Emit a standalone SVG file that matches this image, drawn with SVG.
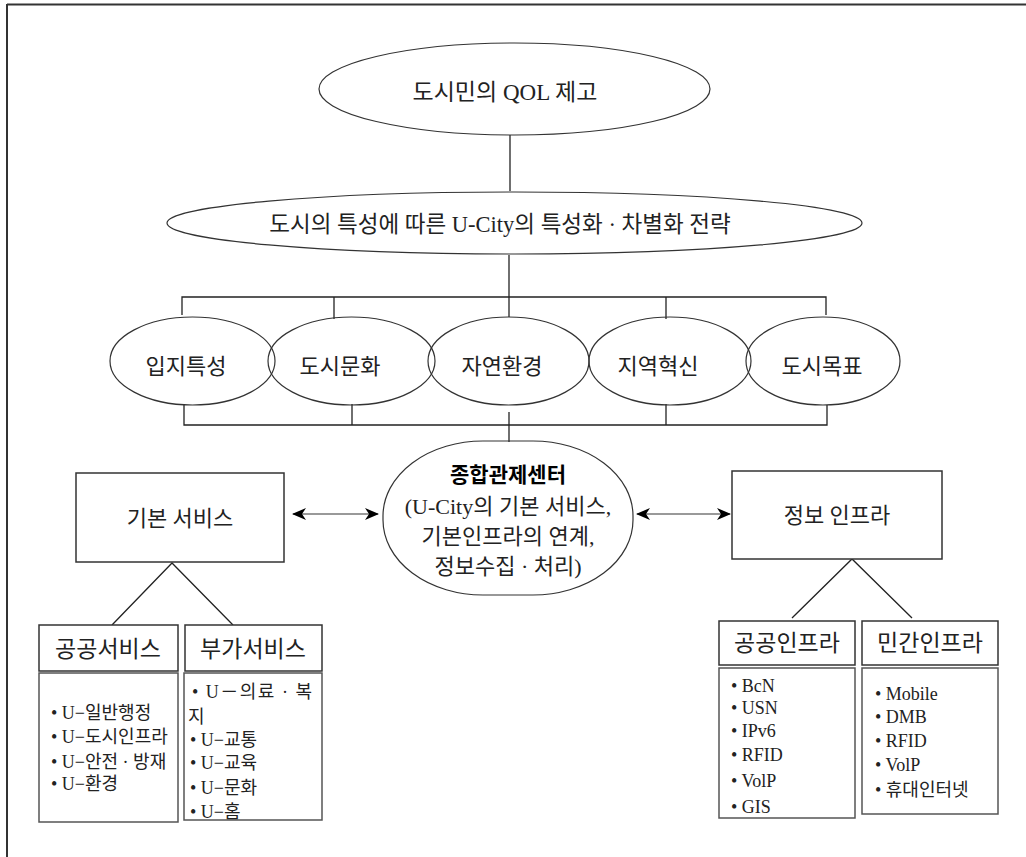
<svg xmlns="http://www.w3.org/2000/svg" width="1026" height="857" viewBox="0 0 1026 857">
<style>
text{font-family:"Liberation Serif","Noto Sans CJK KR",serif;fill:#222;}
.t{font-size:22px;text-anchor:middle;}
.h{font-size:23px;text-anchor:middle;}
.s{font-size:18px;}
.shape{fill:none;stroke:#333;stroke-width:1.2;}
.box{fill:#fff;stroke:#333;stroke-width:1.5;}
.lbox{fill:#fff;stroke:#555;stroke-width:1.5;}
.ln{fill:none;stroke:#222;stroke-width:1.3;}
.arr{fill:none;stroke:#777;stroke-width:1.5;marker-start:url(#ah);marker-end:url(#ah);}
</style>
<defs>
<marker id="ah" viewBox="0 0 14 12" refX="13" refY="6" markerWidth="14" markerHeight="12" markerUnits="userSpaceOnUse" orient="auto-start-reverse">
<path d="M0,0 L14,6 L0,12 L4,6 z" fill="#000"/>
</marker>
</defs>
<rect width="1026" height="857" fill="#fff"/>
<g id="frame">
<line x1="7" y1="4.5" x2="1026" y2="4.5" stroke="#333" stroke-width="2"/>
<line x1="7" y1="4" x2="7" y2="857" stroke="#333" stroke-width="2"/>
</g>
<g id="connectors">
<line class="ln" x1="510" y1="135" x2="510" y2="191"/>
<line class="ln" x1="509" y1="255" x2="509" y2="317"/>
<polyline class="ln" points="182,315 182,297 826,297 826,315"/>
<line class="ln" x1="334" y1="297" x2="334" y2="319"/>
<line class="ln" x1="666" y1="297" x2="666" y2="319"/>
<polyline class="ln" points="184,405 184,425 827,425 827,405"/>
<line class="ln" x1="352" y1="404" x2="352" y2="425"/>
<line class="ln" x1="666" y1="404" x2="666" y2="425"/>
<line class="ln" x1="509" y1="412" x2="509" y2="442"/>
<line class="arr" x1="293" y1="514" x2="378" y2="514"/>
<line class="arr" x1="637" y1="514" x2="730" y2="514"/>
<polyline class="ln" points="112,625 172,563 233,625"/>
<polyline class="ln" points="792,618 852,559 912,618"/>
</g>
<g id="n-qol">
<ellipse class="shape" cx="514.5" cy="89" rx="195.5" ry="46"/>
<text class="t" x="505" y="100" style="font-size:23px">도시민의 QOL 제고</text>
</g>
<g id="n-strategy">
<ellipse class="shape" cx="514.5" cy="223" rx="347.5" ry="31"/>
<text class="t" x="500" y="232" style="font-size:22.5px">도시의 특성에 따른 U-City의 특성화 · 차별화 전략</text>
</g>
<g id="n-ipji">
<ellipse class="shape" cx="192.5" cy="361" rx="82.5" ry="44"/>
<text class="t" x="186" y="374">입지특성</text>
</g>
<g id="n-dosimunhwa">
<ellipse class="shape" cx="351.5" cy="361" rx="83.5" ry="44"/>
<text class="t" x="340" y="374">도시문화</text>
</g>
<g id="n-jayeon">
<ellipse class="shape" cx="508.5" cy="361" rx="80.5" ry="44"/>
<text class="t" x="502" y="374">자연환경</text>
</g>
<g id="n-jiyeok">
<ellipse class="shape" cx="670" cy="361" rx="81" ry="44"/>
<text class="t" x="658" y="374">지역혁신</text>
</g>
<g id="n-mokpyo">
<ellipse class="shape" cx="823" cy="361" rx="77" ry="44"/>
<text class="t" x="822" y="374">도시목표</text>
</g>
<g id="n-center">
<rect class="shape" x="383" y="441" width="250" height="154" rx="100" ry="75"/>
<text class="t" x="508" y="482" style="font-size:21px;font-weight:bold;fill:#000">종합관제센터</text>
<text class="t" x="508" y="514">(U-City의 기본 서비스,</text>
<text class="t" x="508" y="544">기본인프라의 연계,</text>
<text class="t" x="508" y="574">정보수집 · 처리)</text>
</g>
<g id="n-basic">
<rect class="box" x="76" y="473" width="208" height="89"/>
<text class="t" x="180" y="526">기본 서비스</text>
</g>
<g id="n-info">
<rect class="box" x="732" y="471" width="210" height="88"/>
<text class="t" x="837" y="523">정보 인프라</text>
</g>
<g id="n-public-svc">
<rect class="box" x="39" y="625" width="139" height="46"/>
<text class="h" x="108" y="657">공공서비스</text>
<rect class="lbox" x="39" y="673" width="139" height="149"/>
<text class="s" x="51" y="719">• U−일반행정</text>
<text class="s" x="51" y="743">• U−도시인프라</text>
<text class="s" x="51" y="768">• U−안전 · 방재</text>
<text class="s" x="51" y="790">• U−환경</text>
</g>
<g id="n-added-svc">
<rect class="box" x="185" y="625" width="137" height="46"/>
<text class="h" x="253" y="657">부가서비스</text>
<rect class="lbox" x="184" y="673" width="138" height="147"/>
<text class="s" x="192" y="698" style="letter-spacing:1.5px">• U－의료 · 복</text>
<text class="s" x="188" y="723">지</text>
<text class="s" x="190" y="746">• U−교통</text>
<text class="s" x="190" y="769">• U−교육</text>
<text class="s" x="190" y="794">• U−문화</text>
<text class="s" x="190" y="818">• U−홈</text>
</g>
<g id="n-public-infra">
<rect class="box" x="719" y="621" width="136" height="44"/>
<text class="h" x="787" y="651">공공인프라</text>
<rect class="lbox" x="719" y="668" width="136" height="150"/>
<text class="s" x="731" y="692">• BcN</text>
<text class="s" x="731" y="714">• USN</text>
<text class="s" x="731" y="737">• IPv6</text>
<text class="s" x="731" y="761">• RFID</text>
<text class="s" x="731" y="787">• VolP</text>
<text class="s" x="731" y="813">• GIS</text>
</g>
<g id="n-private-infra">
<rect class="box" x="862" y="621" width="136" height="44"/>
<text class="h" x="930" y="651">민간인프라</text>
<rect class="lbox" x="862" y="668" width="136" height="146"/>
<text class="s" x="875" y="700">• Mobile</text>
<text class="s" x="875" y="723">• DMB</text>
<text class="s" x="875" y="747">• RFID</text>
<text class="s" x="875" y="771">• VolP</text>
<text class="s" x="875" y="796">• 휴대인터넷</text>
</g>
</svg>
